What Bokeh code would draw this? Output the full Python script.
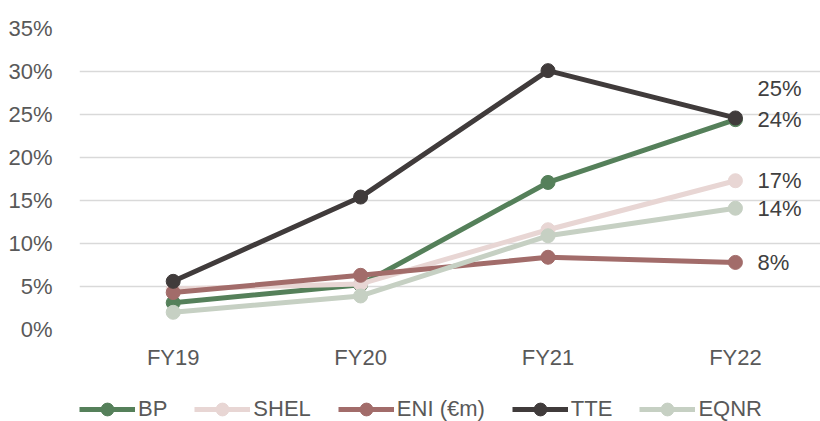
from bokeh.plotting import figure
from bokeh.layouts import column
from bokeh.models import (ColumnDataSource, Range1d, FixedTicker, NumeralTickFormatter,
                          Legend, LegendItem)
from bokeh.core.properties import value
from bokeh.embed import file_html
from bokeh.resources import INLINE

# Fiscal years and return figures (fractions) per company
years = ["FY19", "FY20", "FY21", "FY22"]
series_names = ["BP", "SHEL", "ENI (€m)", "TTE", "EQNR"]
bp = [0.031, 0.052, 0.171, 0.244]
shel = [0.047, 0.053, 0.116, 0.173]
eni = [0.043, 0.063, 0.084, 0.078]
tte = [0.056, 0.154, 0.301, 0.246]
eqnr = [0.020, 0.039, 0.109, 0.141]
y_ticks = [0.0, 0.05, 0.10, 0.15, 0.20, 0.25, 0.30, 0.35]

colors = ["#55805A", "#E8D6D4", "#A26C6A", "#403B3B", "#C6D0C3"]
values = [bp, shel, eni, tte, eqnr]
# vertical nudge of the end-of-line value label (px)
label_dy = [0, 0, 0, 29, 0]

FONT = "Liberation Sans"
xs = list(range(len(years)))

chart = figure(width=820, height=380, output_backend="svg", toolbar_location=None,
               x_range=Range1d(-0.5, len(years) - 0.546), y_range=Range1d(0, 0.35),
               min_border_left=79, min_border_right=0, min_border_top=28,
               min_border_bottom=51, outline_line_color=None)
chart.background_fill_color = "white"
chart.border_fill_color = "white"

# axes
chart.xaxis.ticker = FixedTicker(ticks=xs)
chart.xaxis.major_label_overrides = {i: y for i, y in enumerate(years)}
chart.yaxis.ticker = FixedTicker(ticks=y_ticks)
chart.yaxis.formatter = NumeralTickFormatter(format="0%")
for ax in (chart.xaxis, chart.yaxis):
    ax.axis_line_color = None
    ax.major_tick_line_color = None
    ax.minor_tick_line_color = None
    ax.major_label_text_font = FONT
    ax.major_label_text_font_size = "22px"
    ax.major_label_text_color = "#595959"
chart.yaxis.major_label_standoff = 21
chart.xaxis.major_label_standoff = 9

chart.xgrid.grid_line_color = None
chart.ygrid.grid_line_color = "#D9D9D9"
chart.ygrid.grid_line_width = 1.5

for name, vals, col, dy in zip(series_names, values, colors, label_dy):
    src = ColumnDataSource(dict(x=xs, y=vals))
    chart.line("x", "y", source=src, line_color=col, line_width=5)
    chart.scatter("x", "y", source=src, size=14, fill_color=col, line_color=col)
    last = vals[-1]
    lab = ColumnDataSource(dict(x=[xs[-1]], y=[last], t=[f"{round(last * 100)}%"]))
    chart.text("x", "y", text="t", source=lab, x_offset=22, y_offset=-dy,
               text_font=value(FONT), text_font_size="22px", text_color="#404040",
               text_baseline="middle", text_align="left")

# legend strip under the chart; its swatch renderers sit outside the visible range
key = figure(width=820, height=41, output_backend="svg", toolbar_location=None,
             x_range=Range1d(0, 1), y_range=Range1d(0, 1),
             min_border_left=0, min_border_right=0, min_border_top=0,
             min_border_bottom=0, outline_line_color=None)
key.axis.visible = False
key.grid.visible = False
key.border_fill_color = "white"

items = []
for name, col in zip(series_names, colors):
    swatch = ColumnDataSource(dict(x=[-10, -11], y=[-10, -10]))
    ln = key.line("x", "y", source=swatch, line_color=col, line_width=5)
    sc = key.scatter("x", "y", source=swatch, size=13, fill_color=col, line_color=col)
    items.append(LegendItem(label=name, renderers=[ln, sc]))

legend = Legend(items=items, orientation="horizontal", location=(0, -4),
                glyph_width=56, glyph_height=32, label_height=32,
                label_standoff=3, spacing=27,
                padding=0, margin=0, border_line_color=None,
                background_fill_alpha=0,
                label_text_font=FONT, label_text_font_size="22px",
                label_text_color="#595959")
key.add_layout(legend, "center")

p = column(chart, key, spacing=0)

open("out.html", "w").write(file_html(p, INLINE))
